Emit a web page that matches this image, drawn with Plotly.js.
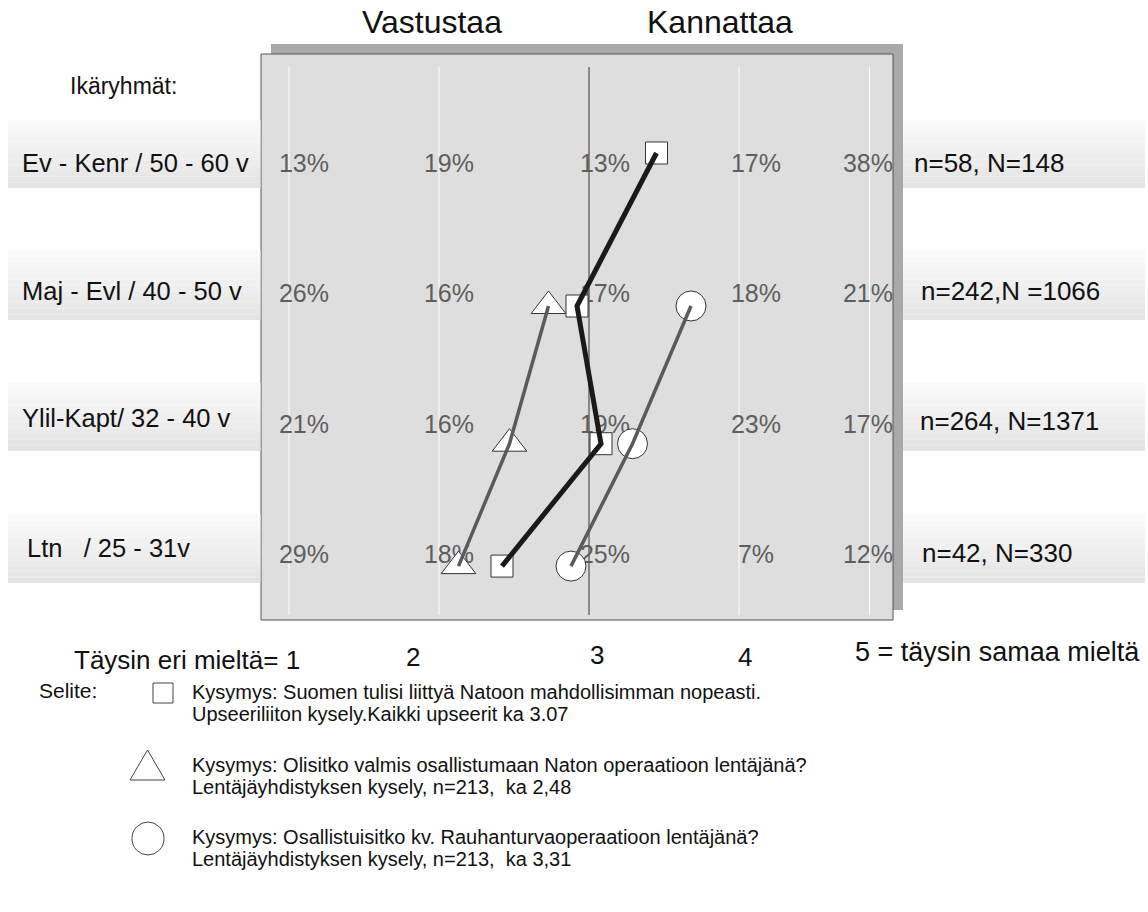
<!DOCTYPE html>
<html><head><meta charset="utf-8">
<script src="https://cdn.plot.ly/plotly-3.0.1.min.js"></script>
<style>body{margin:0;background:#fff}#chart{width:1148px;height:912px}</style>
</head><body><div id="chart"></div>
<script>
// ---------- data ----------
const groups = ['Ev - Kenr / 50 - 60 v', 'Maj - Evl / 40 - 50 v', 'Ylil-Kapt/ 32 - 40 v', 'Ltn\u00a0\u00a0\u00a0/ 25 - 31v'];
const ageMid = [55, 45, 36, 28];
const sampleLabels = ['n=58, N=148', 'n=242,N =1066', 'n=264, N=1371', 'n=42, N=330'];
const scaleLevels = [1, 2, 3, 4, 5];
const pctEvKenr = [13, 19, 13, 17, 38];
const pctMajEvl = [26, 16, 17, 18, 21];
const pctYlilKapt = [21, 16, 19, 23, 17];
const pctLtn = [29, 18, 25, 7, 12];
const squareMeans = [3.45, 2.92, 3.08, 2.42];     // Upseeriliitto: Nato-jäsenyys
const triangleMeans = [null, 2.73, 2.47, 2.13];   // Naton operaatio lentäjänä
const circleMeans = [null, 3.68, 3.29, 2.88];     // Rauhanturvaoperaatio lentäjänä
const scaleTicks = ['Täysin eri mieltä= 1', '2', '3', '4', '5 = täysin samaa mieltä'];
const legendTexts = [
  ['Kysymys: Suomen tulisi liittyä Natoon mahdollisimman nopeasti.', 'Upseeriliiton kysely.Kaikki upseerit ka 3.07'],
  ['Kysymys: Olisitko valmis osallistumaan Naton operaatioon lentäjänä?', 'Lentäjäyhdistyksen kysely, n=213,  ka 2,48'],
  ['Kysymys: Osallistuisitko kv. Rauhanturvaoperaatioon lentäjänä?', 'Lentäjäyhdistyksen kysely, n=213,  ka 3,31']
];
const pctRows = [pctEvKenr, pctMajEvl, pctYlilKapt, pctLtn];

// ---------- geometry (style) ----------
const W = 1148, H = 912;
const PL = 261, PR = 893, PT = 54, PB = 620;
const X1PX = 289, PXU = 150;          // pixel of level 1, pixels per level
const AGE0 = 55, AGE0PX = 153, PXY = 15.3;
const xRange = [1 - (X1PX - PL) / PXU, 1 + (PR - X1PX) / PXU];
const yRange = [AGE0 - (PB - AGE0PX) / PXY, AGE0 + (AGE0PX - PT) / PXY];
const px = x => (x - PL) / (PR - PL);
const py = y => (PB - y) / (PB - PT);
const FONT = 'Liberation Sans, Arial, sans-serif';

// percent label offsets (pixels; positive y = up)
const colShift = [15, 10, 16, 17, -21];
const rowShift = [-13, 10, 17, 9];

const pctX = [], pctY = [], pctT = [];
pctRows.forEach((row, r) => row.forEach((v, c) => {
  pctX.push(scaleLevels[c] + colShift[c] / PXU);
  pctY.push(ageMid[r] + rowShift[r] / PXY);
  pctT.push(v + '%');
}));

const traces = [
  {x: pctX, y: pctY, text: pctT, mode: 'text', type: 'scatter', cliponaxis: false,
   textfont: {family: FONT, size: 25, color: '#5e5e5e'}, hoverinfo: 'skip'},
];
function series(vals, sym, size, lc, lw) {
  traces.push({x: vals, y: ageMid, mode: 'markers', type: 'scatter', cliponaxis: false,
    marker: {symbol: sym, size: size, color: '#ffffff', line: {color: '#333', width: 1}}});
  traces.push({x: vals, y: ageMid, mode: 'lines', type: 'scatter', cliponaxis: false,
    line: {color: lc, width: lw}});
}
series(squareMeans, 'square', 22, '#1a1a1a', 5);
series(triangleMeans, 'triangle-up', 30, '#5a5a5a', 3.5);
series(circleMeans, 'circle', 30, '#5a5a5a', 3.5);

// ---------- shapes ----------
const shapes = [];
shapes.push({type: 'rect', xref: 'paper', yref: 'paper', x0: px(271), x1: px(903), y0: py(610), y1: py(44),
  fillcolor: '#a9a9a9', line: {width: 0}, layer: 'below'});
shapes.push({type: 'rect', xref: 'paper', yref: 'paper', x0: px(261), x1: px(893), y0: py(620), y1: py(54),
  fillcolor: '#dedede', line: {color: '#555', width: 1}, layer: 'below'});
[1, 2, 4, 4.87].forEach(v => shapes.push({type: 'line', xref: 'x', yref: 'paper', x0: v, x1: v, y0: py(615), y1: py(67),
  line: {color: '#ffffff', width: 1}, layer: 'below'}));
shapes.push({type: 'line', xref: 'x', yref: 'paper', x0: 3, x1: 3, y0: py(615), y1: py(67),
  line: {color: '#333', width: 1}, layer: 'below'});

const bands = [[120, 188], [251, 320], [383, 451], [515, 583]];
const NS = 12;
bands.forEach(([t, b]) => {
  for (let i = 0; i < NS; i++) {
    const y0 = t + (b - t) * i / NS, y1 = t + (b - t) * (i + 1) / NS;
    const g = Math.round(250 - (250 - 228) * i / (NS - 1));
    const col = `rgb(${g},${g},${g})`;
    shapes.push({type: 'rect', xref: 'paper', yref: 'paper', x0: px(8), x1: px(260.5), y0: py(y1), y1: py(y0),
      fillcolor: col, line: {width: 0}, layer: 'below'});
    shapes.push({type: 'rect', xref: 'paper', yref: 'paper', x0: px(903), x1: px(1145), y0: py(y1), y1: py(y0),
      fillcolor: col, line: {width: 0}, layer: 'below'});
  }
});

// legend symbols
shapes.push({type: 'rect', xref: 'paper', yref: 'paper', x0: px(153), x1: px(173), y0: py(703), y1: py(683),
  fillcolor: '#fff', line: {color: '#444', width: 1}});
shapes.push({type: 'path', xref: 'paper', yref: 'paper',
  path: `M ${px(130)},${py(780)} L ${px(165)},${py(780)} L ${px(147.5)},${py(750)} Z`,
  fillcolor: '#fff', line: {color: '#444', width: 1}});
shapes.push({type: 'circle', xref: 'paper', yref: 'paper', x0: px(132), x1: px(164), y0: py(855), y1: py(822),
  fillcolor: '#fff', line: {color: '#444', width: 1}});

// ---------- annotations ----------
const ann = [];
function txt(text, x, y, size, anchor, color) {
  ann.push({text: text, xref: 'paper', yref: 'paper', x: px(x), y: py(y), xanchor: anchor || 'left', yanchor: 'middle',
    showarrow: false, font: {family: FONT, size: size, color: color || '#111'}});
}
txt('Vastustaa', 432, 22, 32, 'center');
txt('Kannattaa', 720, 22, 32, 'center');
txt('Ikäryhmät:', 68, 86, 23, 'left');
const leftY = [163, 291, 418, 548], rightY = [163, 291, 421, 553];
const leftX = [20, 20, 20, 25], rightX = [912, 919, 918, 920];
groups.forEach((g, i) => txt(g, leftX[i], leftY[i], 25.5, 'left'));
sampleLabels.forEach((s, i) => txt(s, rightX[i], rightY[i], 26, 'left'));
txt(scaleTicks[0], 302, 660, 26, 'right');
txt(scaleTicks[1], 413, 657, 26, 'center');
txt(scaleTicks[2], 597, 655, 26, 'center');
txt(scaleTicks[3], 745, 657, 26, 'center');
txt(scaleTicks[4], 1142, 652, 27, 'right');
txt('Selite:', 37, 690, 21, 'left');
const legY = [[692, 714], [765, 787], [837, 859]];
legendTexts.forEach((pair, i) => {
  txt(pair[0], 190, legY[i][0], 20, 'left');
  txt(pair[1], 190, legY[i][1], 20, 'left');
});

const layout = {
  width: W, height: H, margin: {l: PL, r: W - PR, t: PT, b: H - PB},
  paper_bgcolor: '#ffffff', plot_bgcolor: 'rgba(0,0,0,0)', showlegend: false, hovermode: false,
  xaxis: {range: xRange, visible: false, fixedrange: true},
  yaxis: {range: yRange, visible: false, fixedrange: true},
  shapes: shapes, annotations: ann
};
Plotly.newPlot('chart', traces, layout, {staticPlot: true, displayModeBar: false});
</script></body></html>
